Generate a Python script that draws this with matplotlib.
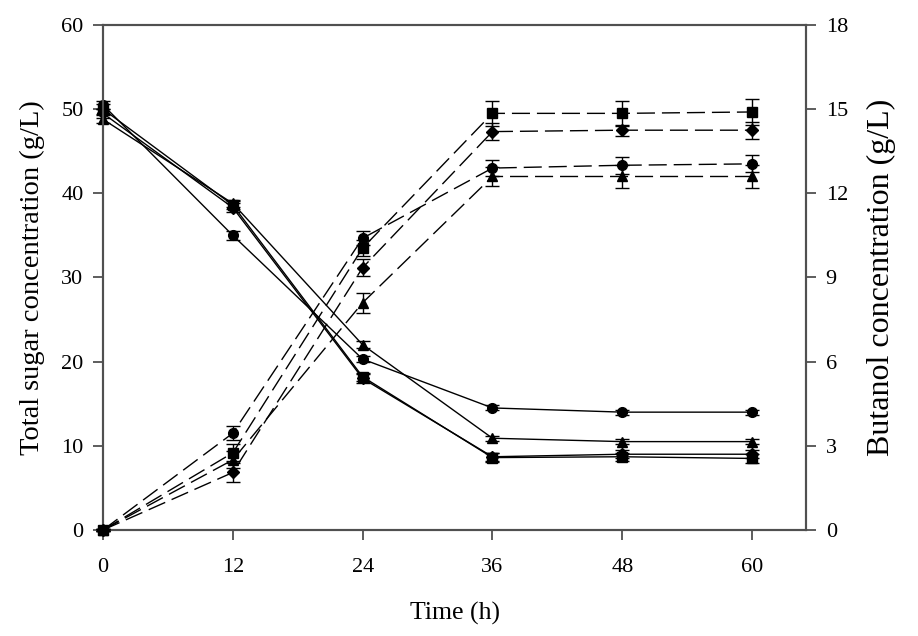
import numpy as np
import matplotlib
matplotlib.use("Agg")
import matplotlib.pyplot as plt

plt.rcParams['font.family'] = ['Liberation Serif', 'DejaVu Serif']

time_h = [0, 12, 24, 36, 48, 60]
series_markers = ['s', 'o', '^', 'D']

# total sugar (g/L), left axis
sugar = {
    's': [50.0, 38.6, 18.2, 8.6, 8.7, 8.5],
    'o': [50.5, 35.0, 20.3, 14.5, 14.0, 14.0],
    '^': [48.8, 38.8, 22.0, 10.9, 10.5, 10.5],
    'D': [49.5, 38.3, 18.0, 8.7, 9.0, 9.0],
}
sugar_err = {
    's': [0.6, 0.5, 0.5, 0.5, 0.5, 0.5],
    'o': [0.5, 0.5, 0.4, 0.3, 0.3, 0.3],
    '^': [0.5, 0.4, 0.4, 0.3, 0.3, 0.3],
    'D': [0.5, 0.5, 0.5, 0.5, 0.5, 0.5],
}

# butanol (g/L), right axis
butanol = {
    's': [0.0, 2.75, 10.05, 14.85, 14.85, 14.9],
    'o': [0.0, 3.45, 10.4, 12.9, 13.0, 13.05],
    '^': [0.0, 2.5, 8.1, 12.6, 12.6, 12.6],
    'D': [0.0, 2.05, 9.35, 14.2, 14.25, 14.25],
}
butanol_err = {
    's': [0.05, 0.3, 0.3, 0.45, 0.45, 0.45],
    'o': [0.05, 0.25, 0.25, 0.3, 0.3, 0.3],
    '^': [0.05, 0.3, 0.35, 0.35, 0.4, 0.4],
    'D': [0.05, 0.35, 0.3, 0.3, 0.2, 0.3],
}

fig = plt.figure(figsize=(9.18, 6.36), dpi=100)
ax = fig.add_axes([0.1122, 0.1667, 0.766, 0.794])
ax2 = ax.twinx()

for m in series_markers:
    ms = 7 if m != 'D' else 6
    ax.errorbar(time_h, sugar[m], yerr=sugar_err[m], color='black', marker=m,
                markersize=ms, linewidth=1.0, capsize=5,
                elinewidth=1.0, capthick=1.0, clip_on=False, zorder=3)
    ax2.errorbar(time_h, butanol[m], yerr=butanol_err[m], color='black', marker=m,
                 markersize=ms, linewidth=1.0, capsize=5,
                 elinewidth=1.0, capthick=1.0, linestyle=(0, (13, 5)),
                 clip_on=False, zorder=3)

ax.set_xlim(0, 65)
ax.set_ylim(0, 60)
ax2.set_ylim(0, 18)
ax.set_xticks(time_h)
ax.set_yticks(np.arange(0, 61, 10))
ax2.set_yticks(np.arange(0, 19, 3))

spine_col = '#505050'
for a in (ax, ax2):
    for s in a.spines.values():
        s.set_color(spine_col)
        s.set_linewidth(1.5)
    a.tick_params(direction='out', length=7, width=1.3, color=spine_col,
                  labelsize=16, pad=7)
ax.tick_params(axis='x', pad=13)

ax.set_xlabel('Time (h)', fontsize=18.5, labelpad=18)
ax.set_ylabel('Total sugar concentration (g/L)', fontsize=20.5, labelpad=12)
ax2.set_ylabel('Butanol concentration (g/L)', fontsize=23, labelpad=14)

fig.savefig('out.png', dpi=100)
